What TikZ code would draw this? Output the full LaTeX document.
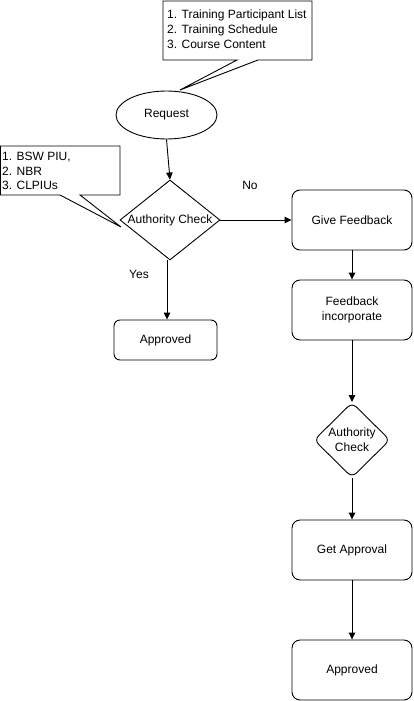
\documentclass[tikz,border=0pt]{standalone}
\usepackage{fontspec}
\setmainfont{Liberation Sans}
\usetikzlibrary{shapes.geometric,arrows.meta}
\begin{document}
\begin{tikzpicture}[x=1pt,y=-1pt,
  every node/.style={font=\fontsize{12}{14.6}\selectfont},
  line/.style={line width=0.9pt, line join=miter},
  arr/.style={line width=0.9pt, -{Triangle[length=7pt,width=6.5pt]}},
  box/.style={draw, line width=0.9pt, rounded corners=8pt, minimum width=120pt, minimum height=60pt, align=center, inner sep=0pt},
  lbl/.style={inner sep=0pt}
]
\useasboundingbox (0,0) rectangle (413,701);

% callout 1
\draw[line] (163,1) -- (312,1) -- (312,60) -- (258,60) -- (180,90) -- (237,60) -- (163,60) -- cycle;
\node[lbl, anchor=north west, align=left] (c1) at (167,10) {1. Training Participant List\\2. Training Schedule\\3. Course Content};

% callout 2
\draw[line] (0.5,146) -- (120,146) -- (120,195) -- (80,195) -- (121,227) -- (60,195) -- (0.5,195) -- cycle;
\node[lbl, anchor=north west, align=left] (c2) at (2,152) {1. BSW PIU,\\2. NBR\\3. CLPIUs};

% request
\node[draw, ellipse, line width=0.9pt, minimum width=101pt, minimum height=48pt, inner sep=0pt] (req) at (166.5,115) {Request};

% diamond 1
\node[draw, diamond, line width=0.9pt, minimum width=100pt, minimum height=80pt, inner sep=0pt] (ac1) at (170,220) {};
\node[lbl] (ac1t) at (170,220) {Authority Check};

% right column
\node[box] (gf) at (352,220) {Give Feedback};
\node[box] (fi) at (352,310) {Feedback\\incorporate};
\node[draw, diamond, line width=0.9pt, rounded corners=6pt, minimum width=76pt, minimum height=75pt, inner sep=0pt] (ac2) at (352,440) {};
\node[lbl, align=center] (ac2t) at (352,440) {Authority\\Check};
\node[box] (ga) at (352,550) {Get Approval};
\node[box] (ap2) at (352,670) {Approved};

% left approved
\node[box, minimum width=103pt, minimum height=40pt, rounded corners=6pt] (ap1) at (165.5,340) {Approved};

% labels
\node[lbl] (no) at (250,185) {No};
\node[lbl] (yes) at (139,274) {Yes};

% connectors
\draw[arr] (req.south) -- (ac1.north);
\draw[arr] (ac1.east) -- (gf.west);
\draw[arr] (ac1.south) ++(-3,0) coordinate (ys) -- (ys |- ap1.north);
\draw[arr] (gf.south) -- (fi.north);
\draw[arr] (fi.south) -- (ac2.north);
\draw[arr] (ac2.south) -- (ga.north);
\draw[arr] (ga.south) -- (ap2.north);
\end{tikzpicture}
\end{document}
